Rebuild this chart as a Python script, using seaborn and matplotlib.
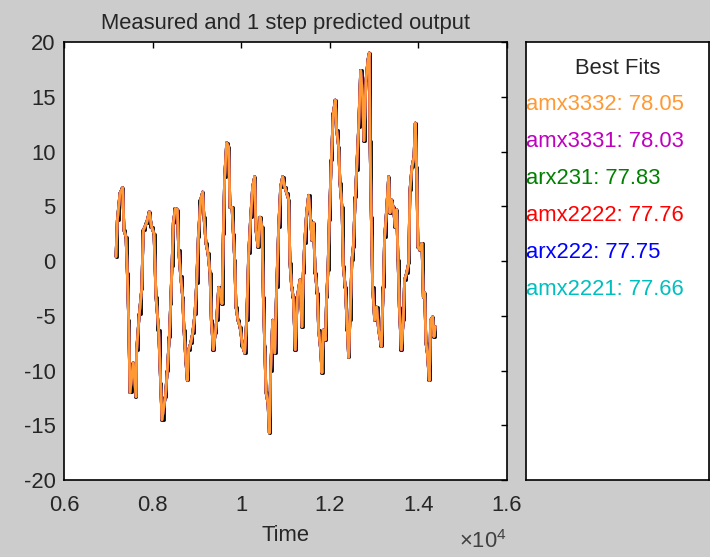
import numpy as np
import pandas as pd
import seaborn as sns
import matplotlib.pyplot as plt
from matplotlib.ticker import FuncFormatter


# values
time = [7174, 7204, 7264, 7325, 7355, 7400, 7430, 7460, 7490, 7565, 7626, 7641, 7701, 7754, 7791, 7866,
        7927, 7979, 8032, 8077, 8137, 8182, 8212, 8288, 8333, 8378, 8408, 8438, 8468, 8513, 8559, 8589,
        8634, 8679, 8709, 8754, 8784, 8814, 8860, 8905, 8957, 8995, 9033, 9085, 9130, 9160, 9206, 9251,
        9296, 9326, 9371, 9416, 9446, 9492, 9537, 9567, 9597, 9627, 9672, 9717, 9747, 9793, 9823, 9853,
        9883, 9928, 9973, 10033, 10078, 10124, 10169, 10214, 10259, 10304, 10334, 10379, 10425, 10470,
        10500, 10530, 10560, 10605, 10635, 10665, 10711, 10756, 10801, 10846, 10891, 10936, 10981, 11026,
        11072, 11101, 11139, 11176, 11221, 11267, 11327, 11372, 11402, 11432, 11477, 11522, 11568, 11598,
        11628, 11673, 11718, 11748, 11793, 11823, 11853, 11899, 11929, 11959, 11989, 12034, 12079, 12124,
        12154, 12200, 12230, 12275, 12305, 12350, 12395, 12425, 12455, 12500, 12531, 12576, 12606, 12651,
        12696, 12741, 12771, 12817, 12862, 12892, 12907, 12937, 12967, 13012, 13057, 13102, 13163, 13208,
        13238, 13283, 13328, 13358, 13388, 13433, 13479, 13509, 13539, 13569, 13614, 13659, 13689, 13734,
        13780, 13810, 13855, 13900, 13930, 13960, 13990, 14035, 14080, 14111, 14141, 14171, 14201, 14246,
        14276, 14321, 14351, 14381]

measured = [0.4, 3.7, 6.2, 6.7, 2.8, 2.2, -1.1, -5.4, -12.0, -9.3, -12.4, -8.1, -4.8, -2.6, 2.8, 3.5,
            4.5, 3.1, 2.5, -3.3, -6.3, -11.1, -14.5, -12.4, -10.0, -6.9, -3.9, -0.5, 3.5, 4.8, 4.7, 1.0,
            -1.4, -3.3, -6.3, -9.3, -10.9, -8.1, -7.5, -6.6, -4.8, -2.0, 2.2, 5.6, 6.3, 4.0, 1.6, 0.7,
            -1.1, -5.4, -8.1, -6.6, -5.4, -2.4, -2.9, -3.9, 2.5, 7.7, 10.8, 10.4, 4.9, 4.9, 2.5, 0.1,
            -4.2, -5.4, -6.0, -7.8, -8.4, -5.4, 0.7, 4.0, 6.8, 7.7, 2.8, 1.3, 4.0, 3.1,
            -3.3, -7.8, -12.0, -13.0, -15.7, -10.0, -5.4, -8.4, -2.4, 3.1, 6.8, 7.7, 6.8, 6.2,
            5.6, -0.2, -2.4, -3.3, -8.1, -3.3, -1.7, -6.0, -1.1, 1.6, 4.4, 6.0, 3.7, 1.9,
            3.5, -1.1, -2.9, -6.3, -8.1, -10.2, -6.3, -7.2, -3.3, -0.8, 3.7, 9.2, 13.5, 14.7,
            12.0, 10.4, 7.1, 4.9, -0.5, -2.4, -6.3, -8.8, -5.4, 0.1, 1.3, 5.8, 8.3, 12.2,
            17.4, 15.0, 11.0, 16.5, 18.4, 19.0, 11.0, 4.0, -2.4, -5.4, -4.2, -6.3, -7.8, -2.4,
            2.2, 4.7, 7.7, 4.4, 5.6, 4.9, 3.1, 4.7, 0.1, -4.2, -8.1, -5.4, -1.7, -1.1,
            -0.2, 6.5, 8.6, 9.5, 12.6, 8.6, 1.3, 1.0, 1.6, -3.3, -2.9, -7.5, -8.4, -10.9,
            -5.4, -5.1, -6.9, -6.0]

models = ['amx2221', 'arx222', 'amx2222', 'arx231', 'amx3331', 'amx3332']
fits = [77.66, 77.75, 77.76, 77.83, 78.03, 78.05]
colors = ['#00bfbf', '#0000ff', '#ff0000', '#008000', '#bf00bf', '#ff9933']

sns.set_style('white')
plt.rcParams['font.family'] = ['Liberation Sans', 'DejaVu Sans']
plt.rcParams['mathtext.fontset'] = 'custom'
plt.rcParams['mathtext.rm'] = 'Liberation Sans'
plt.rcParams['axes.unicode_minus'] = False

df = pd.DataFrame({'Time': time, 'y': measured})
fs = 15.8
txt = '#262626'

fig = plt.figure(figsize=(7.1, 5.57), dpi=100, facecolor='#cccccc')
ax = fig.add_axes([0.0901, 0.1382, 0.6240, 0.7864])
ax_leg = fig.add_axes([0.7408, 0.1382, 0.2577, 0.7864])

# measured output (stairs) under the predictions
sns.lineplot(data=df, x='Time', y='y', ax=ax, color='black', lw=2.0, drawstyle='steps-mid')
for name, col in zip(models, colors):
    sns.lineplot(data=df, x='Time', y='y', ax=ax, color=col, lw=2.0)

ax.set_xlim(6000, 16000)
ax.set_ylim(-20, 20)
ax.set_xticks([6000, 8000, 10000, 12000, 14000, 16000])
ax.set_yticks(np.arange(-20, 21, 5))
ax.xaxis.set_major_formatter(FuncFormatter(lambda v, p: f'{v / 1e4:g}'))
ax.tick_params(direction='in', top=True, right=True, length=4, width=1, labelsize=fs, colors='black',
               labelcolor=txt)
ax.tick_params(axis='x', pad=11)
ax.tick_params(axis='y', pad=6)
ax.set_xlabel('Time', fontsize=fs, color=txt, labelpad=6)
ax.set_ylabel('')
ax.set_title('Measured and 1 step predicted output', fontsize=fs, color=txt, pad=9)
ax.text(1.0, -0.14, r'$\times10^4$', fontsize=fs, color='#404040', ha='right', va='center',
        transform=ax.transAxes)
for s in ax.spines.values():
    s.set_color('black')
    s.set_linewidth(1.2)

# "Best Fits" panel
ax_leg.set_xticks([])
ax_leg.set_yticks([])
for s in ax_leg.spines.values():
    s.set_color('black')
    s.set_linewidth(1.2)
ax_leg.text(0.5, 0.94, 'Best Fits', fontsize=fs, color=txt, ha='center', va='center',
            transform=ax_leg.transAxes)
for i, (name, fit, col) in enumerate(zip(models[::-1], fits[::-1], colors[::-1])):
    ax_leg.text(0.0, 0.858 - i * 0.0845, f'{name}: {fit:.2f}', fontsize=fs, color=col, ha='left',
                va='center', transform=ax_leg.transAxes)

plt.savefig('out.png', dpi=100, facecolor=fig.get_facecolor())
